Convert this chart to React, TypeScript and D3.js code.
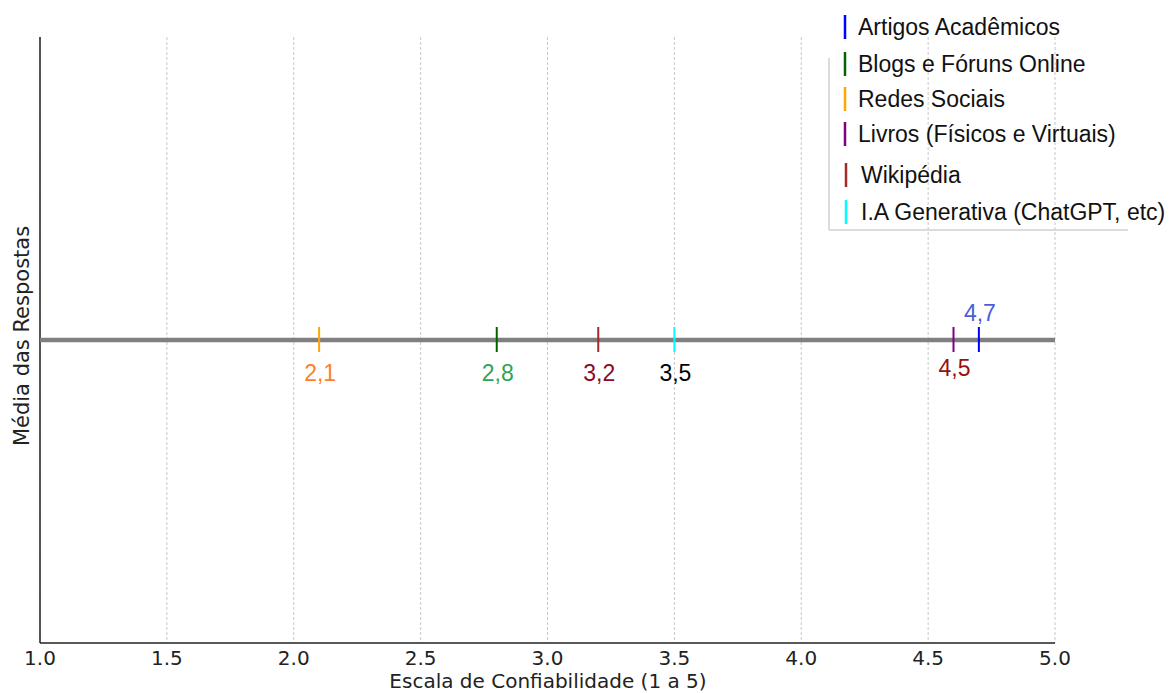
import React from "react";
import * as d3 from "d3";

const categories = [
  "Artigos Acadêmicos",
  "Blogs e Fóruns Online",
  "Redes Sociais",
  "Livros (Físicos e Virtuais)",
  "Wikipédia",
  "I.A Generativa (ChatGPT, etc)",
];
const markerValues = [4.7, 2.8, 2.1, 4.6, 3.2, 3.5];
const markerColors = ["#0000ff", "#006400", "#ffa500", "#800080", "#a52a2a", "#00ffff"];
const valueLabels = ["4,7", "2,8", "2,1", "4,5", "3,2", "3,5"];
const valueLabelColors = ["#4a5ddb", "#2ea35a", "#ff7f2a", "#990f0f", "#8b0a26", "#000000"];
const labelAbove = [true, false, false, false, false, false];
const xTicks = [1.0, 1.5, 2.0, 2.5, 3.0, 3.5, 4.0, 4.5, 5.0];
const legendRowY = [27, 64, 99, 134, 175, 212];

const W = 1170;
const H = 693;
const left = 40;
const right = 1055;
const top = 37;
const bottom = 643;
const lineY = 340;

export default function App() {
  const x = d3.scaleLinear().domain([1, 5]).range([left, right]);
  return (
    <div style={{ position: "absolute", left: 0, top: 0 }}>
      <svg width={W} height={H} style={{ display: "block", background: "#fff" }}>
        {/* grid */}
        {xTicks.map((t) => (
          <line
            key={"g" + t}
            x1={x(t)}
            x2={x(t)}
            y1={top}
            y2={bottom}
            stroke="#c8c8c8"
            strokeWidth={1}
            strokeDasharray="3,2"
          />
        ))}
        {/* axes */}
        <line x1={left} x2={left} y1={top} y2={bottom} stroke="#222" strokeWidth={1.5} />
        <line x1={left} x2={right} y1={bottom} y2={bottom} stroke="#222" strokeWidth={1.5} />
        {xTicks.map((t) => (
          <text
            key={"t" + t}
            x={x(t)}
            y={665}
            textAnchor="middle"
            fontFamily="DejaVu Sans"
            fontSize={20}
            fill="#222"
          >
            {d3.format(".1f")(t)}
          </text>
        ))}
        <text
          x={548}
          y={688}
          textAnchor="middle"
          fontFamily="DejaVu Sans"
          fontSize={20}
          fill="#222"
        >
          Escala de Confiabilidade (1 a 5)
        </text>
        <text
          transform={`translate(29,336) rotate(-90)`}
          textAnchor="middle"
          fontFamily="DejaVu Sans"
          fontSize={21}
          fill="#222"
        >
          Média das Respostas
        </text>
        {/* main line */}
        <line x1={left} x2={right} y1={lineY} y2={lineY} stroke="#808080" strokeWidth={4.5} />
        {markerValues.map((v, i) => (
          <line
            key={"m" + i}
            x1={x(v)}
            x2={x(v)}
            y1={lineY - 13}
            y2={lineY + 12}
            stroke={markerColors[i]}
            strokeWidth={2}
          />
        ))}
        {markerValues.map((v, i) => (
          <text
            key={"l" + i}
            x={x(v) + 1}
            y={labelAbove[i] ? 321 : i === 3 ? 376 : 381}
            textAnchor="middle"
            fontFamily="Liberation Sans, Arial, sans-serif"
            fontSize={23}
            fill={valueLabelColors[i]}
          >
            {valueLabels[i]}
          </text>
        ))}
        {/* legend */}
        <line x1={829} x2={829} y1={58} y2={230} stroke="#d0d0d0" strokeWidth={1.5} />
        <line x1={829} x2={1128} y1={230} y2={230} stroke="#d0d0d0" strokeWidth={1.5} />
        {categories.map((c, i) => (
          <g key={"lg" + i}>
            <line
              x1={845 + (i >= 4 ? 1 : 0)}
              x2={845 + (i >= 4 ? 1 : 0)}
              y1={legendRowY[i] - 12}
              y2={legendRowY[i] + 12}
              stroke={markerColors[i]}
              strokeWidth={2.5}
            />
            <text
              x={i >= 4 ? 861 : 858}
              y={legendRowY[i] + 8}
              fontFamily="Liberation Sans, Arial, sans-serif"
              fontSize={23}
              fill="#111"
            >
              {c}
            </text>
          </g>
        ))}
      </svg>
    </div>
  );
}
